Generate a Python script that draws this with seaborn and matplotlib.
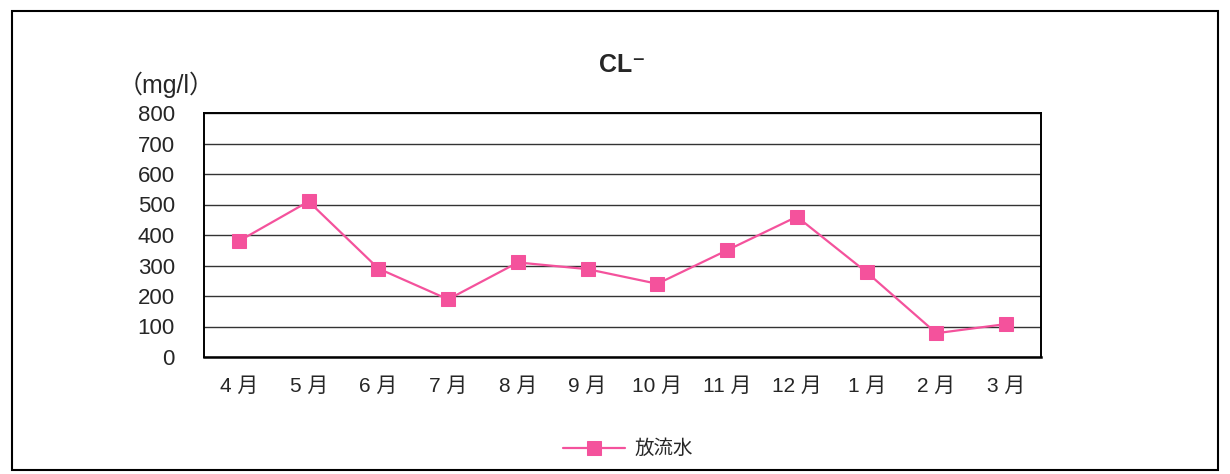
import matplotlib
matplotlib.use("Agg")
import matplotlib.pyplot as plt
import seaborn as sns
import pandas as pd
from matplotlib.patches import Rectangle
from matplotlib.ticker import FixedLocator

# データ（放流水の塩化物イオン濃度）
months = ['4月', '5月', '6月', '7月', '8月', '9月', '10月', '11月', '12月', '1月', '2月', '3月']
values = [380, 510, 290, 189, 310, 288, 240, 350, 460, 278, 78, 108]
series_name = '放流水'
yticks = [0, 100, 200, 300, 400, 500, 600, 700, 800]

sns.set_style('white')
fonts = ['Liberation Sans', 'Noto Sans CJK JP', 'DejaVu Sans']
plt.rcParams['font.family'] = fonts

df = pd.DataFrame({'month': months, 'value': values, 'pos': range(len(months))})

fig = plt.figure(figsize=(12.3, 4.74), dpi=100)
ax = fig.add_axes([204 / 1230, 1 - 357 / 474, (1041 - 204) / 1230, (357 - 113) / 474])

pink = '#F4529C'
sns.lineplot(data=df, x='pos', y='value', sort=False, ax=ax, color=pink, lw=1.6,
             marker='s', markersize=10, markeredgecolor=pink, label=series_name)

ax.set_xlim(-0.5, len(months) - 0.5)
ax.set_ylim(0, 800)
ax.set_yticks(yticks)
ax.set_yticklabels([str(v) for v in yticks], fontsize=16)
ax.set_xticks(range(len(months)))
ax.set_xticklabels([m.replace('月', ' 月') for m in months], fontsize=15)
ax.xaxis.set_minor_locator(FixedLocator([i + 0.5 for i in range(len(months) - 1)]))
ax.tick_params(axis='x', which='major', length=0, pad=14)
ax.tick_params(axis='x', which='minor', direction='in', length=5, width=1.2, color='black')
ax.tick_params(axis='y', length=0, pad=21)
ax.set_xlabel('')
ax.set_ylabel('')

ax.grid(axis='y', color='#333333', lw=1.0)
ax.set_axisbelow(True)
for s in ax.spines.values():
    s.set_color('black')
    s.set_linewidth(1.4)
ax.spines['bottom'].set_linewidth(1.8)

ax.get_legend().remove()
handles, labels = ax.get_legend_handles_labels()
fig.legend(handles, labels, loc='center', bbox_to_anchor=(628 / 1230, 1 - 449 / 474),
           frameon=False, fontsize=14, handlelength=3.2, handletextpad=0.5)

fig.text(622 / 1230, 1 - 65 / 474, 'CL⁻', ha='center', va='center', fontsize=18,
         fontweight='bold')
fig.text(166 / 1230, 1 - 85 / 474, '（mg/l）', ha='center', va='center', fontsize=18)

fig.add_artist(Rectangle((12 / 1230, 4 / 474), (1218 - 12) / 1230, (470 - 11) / 474,
                         transform=fig.transFigure, fill=False, ec='black', lw=1.5))

fig.savefig('out.png', dpi=100)
